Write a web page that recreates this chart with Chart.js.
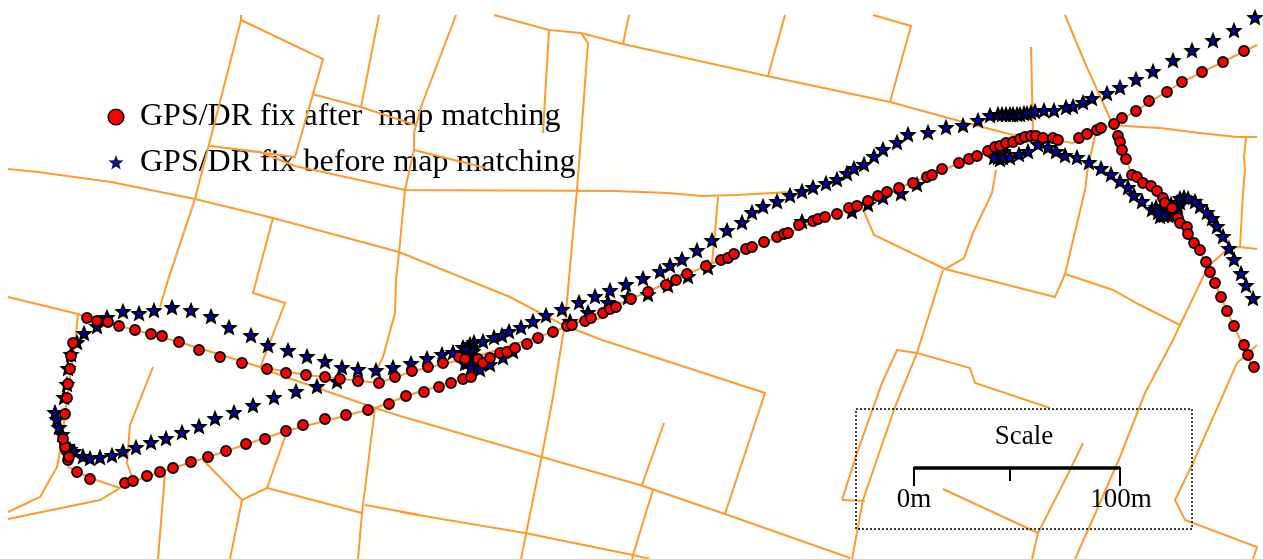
<!DOCTYPE html>
<html>
<head>
<meta charset="utf-8">
<style>html,body{margin:0;padding:0;background:#fff;overflow:hidden}canvas{display:block}</style>
<script src="https://cdn.jsdelivr.net/npm/chart.js@4"></script>
</head>
<body>
<canvas id="c" width="1263" height="559"></canvas>
<script>
const legendLabels = ["GPS/DR fix after  map matching", "GPS/DR fix before map matching"];
const scaleTitle = "Scale";
const scaleLabels = [["0m", 914], ["100m", 1121]];

const matchedFixes = [
[68,460],[77,472],[90,479],[125,483],[133,481],[147,476],[160,472],[173,468],[191,462],[208,457],[226,451],[246,444],[265,439],[286,431],[303,425],[325,419],[346,415],[368,410],[389,404],[406,396],[424,392],[439,387],[451,383],[463,379],[471,377],
[68,453],[66,450],[65,447],[69,457],[63,439],[65,414],[67,398],[68,384],[70,369],[71,356],[73,343],[87,318],[97,321],[108,322],[119,326],[135,330],[151,334],[162,336],[179,342],[199,350],[220,357],[242,363],[267,369],[286,373],[306,375],[325,377],[340,379],[358,381],[379,383],[395,377],[412,371],[428,367],[443,363],[459,357],[465,359],[478,359],[483,363],[490,358],[500,353],[507,352],[515,348],[527,344],[538,338],[553,332],[567,326],[572,325],[585,321],[591,318],[603,313],[610,309],[616,307],[631,299],[648,292],[666,285],[676,280],[687,274],[706,266],[721,260],[728,258],[734,254],[746,249],[752,247],[764,242],[777,237],[784,234],[788,233],[799,225],[813,221],[818,219],[825,217],[837,214],[849,208],[857,206],[868,201],[878,196],[887,192],[899,188],[913,183],[927,177],[932,175],[942,169],[959,163],[969,159],[977,156],[988,151],[995,147],[1000,146],[1006,143],[1013,142],[1020,139],[1025,137],[1031,136],[1036,136],[1043,138],[1053,138],[1058,140],[1079,138],[1087,134],[1097,130],[1101,128],[1114,124],[1122,118],[1136,111],[1149,101],[1167,92],[1182,82],[1202,72],[1223,62],[1244,51],
[1118,136],[1120,142],[1122,150],[1126,159],[1132,175],[1137,177],[1143,183],[1151,186],[1157,191],[1163,198],[1165,203],[1172,208],[1178,218],[1180,223],[1187,227],[1188,234],[1194,243],[1200,250],[1206,262],[1210,272],[1215,283],[1221,297],[1227,311],[1234,326],[1244,345],[1248,355],[1254,367]
];

const rawFixes = [
[123,452],[136,448],[151,443],[166,439],[182,433],[199,427],[215,419],[234,413],[253,406],[274,398],[296,392],[317,387],[337,382],[358,370],[376,371],[393,368],[411,364],[427,359],[442,355],[453,353],[463,348],[474,343],[483,342],[494,338],[502,336],[509,332],[521,328],[533,322],[546,316],[562,310],[579,303],[595,297],[610,291],[626,285],[643,279],[660,272],[670,266],[682,260],[697,251],[712,241],[727,231],[742,223],[752,213],[763,207],[777,202],[790,196],[802,192],[813,188],[826,184],[837,180],[847,174],[854,169],[864,165],[874,157],[883,150],[897,143],[908,135],[928,133],[946,128],[963,126],[978,121],[990,116],[998,115],[1002,115],[1006,115],[1010,115],[1013,115],[1017,115],[1020,115],[1024,114],[1027,114],[1031,113],[1035,112],[1044,111],[1054,111],[1066,108],[1073,107],[1083,103],[1092,99],[1107,94],[1120,88],[1136,80],[1153,72],[1173,61],[1192,51],[1213,41],[1234,31],[1255,18],
[342,368],[325,362],[307,357],[288,351],[268,346],[251,336],[229,328],[211,317],[191,311],[172,308],[154,311],[139,314],[123,312],[107,318],[97,327],[84,334],[77,343],[71,355],[68,369],[67,385],[64,398],[55,413],[57,420],[59,428],[62,435],[67,447],[70,450],[74,452],[83,457],[90,459],[100,458],[112,456],
[470,345],[470,348],[470,351],[469,354],[469,357],[468,360],[468,363],[472,365],[476,366],[473,352],[466,350],[474,358],[466,358],[473,362],[465,364],[471,368],[480,370],[490,365],[503,358],[513,352],[570,322],[588,313],[608,303],[628,298],[648,295],[668,286],[688,277],[708,268],[802,222],[852,212],[868,205],[883,198],[901,194],[917,185],
[995,155],[998,158],[1001,155],[1003,152],[1000,160],[997,152],[1003,158],[994,158],[1001,150],[1010,158],[1019,155],[1028,152],[1038,145],[1048,148],[1056,152],[1065,156],[1077,158],[1089,163],[1101,169],[1111,175],[1120,182],[1128,188],[1134,196],[1142,202],[1152,210],[1160,217],[1156,208],[1162,210],[1166,212],[1170,213],[1168,216],[1173,209],[1176,205],[1172,216],[1164,216],[1158,213],[1166,207],[1171,205],[1175,211],[1178,207],[1180,203],[1177,203],[1180,199],[1184,198],[1188,199],[1195,202],[1200,207],[1207,213],[1212,219],[1217,227],[1223,237],[1229,249],[1234,260],[1241,274],[1246,286],[1253,299]
];

const roadNetwork = [
[[241,15],[241,20],[323,59],[295,157],[210,146],[260,152],[295,166],[405,190],[615,191],[668,193],[702,196],[737,195],[790,192]],
[[241,20],[195,199],[168,280],[160,307]],
[[379,15],[361,107]],
[[456,15],[421,107],[414,133],[414,150],[405,190],[399,253],[396,280],[395,313],[383,357],[376,372]],
[[375,408],[362,513],[358,559]],
[[312,94],[361,107],[415,125]],
[[414,150],[486,168]],
[[494,15],[549,30],[581,33],[623,44],[767,76],[890,102],[963,122],[1013,135],[1043,138],[1073,143],[1093,131],[1113,125],[1142,127],[1160,128],[1200,133],[1237,137],[1257,137]],
[[629,15],[623,44]],[[785,15],[768,76]],
[[873,15],[911,26],[890,102]],
[[549,30],[543,133]],
[[581,33],[588,43],[577,190],[570,267],[565,323],[553,397],[543,450],[521,559]],
[[8,169],[38,172],[111,182],[195,199],[273,218],[399,252],[473,282],[510,297],[563,325],[602,318]],
[[563,325],[602,340],[765,393],[725,514]],
[[273,218],[253,293],[285,303],[260,368]],
[[718,197],[715,233],[712,263]],
[[8,297],[78,314],[87,318]],
[[78,314],[75,343],[67,398],[62,440],[57,467],[40,497],[8,512]],
[[8,519],[100,500],[120,488],[90,478],[68,467]],
[[87,318],[135,330],[179,342],[260,367],[306,375],[379,383],[413,371],[478,356],[553,332],[631,299],[706,266],[788,233],[899,188],[977,156],[1013,142],[1043,138]],
[[125,484],[173,468],[208,457],[286,431],[375,408],[412,394],[471,377],[483,365]],
[[1113,125],[1182,82],[1257,45]],
[[260,368],[375,408],[400,416],[542,457],[640,485],[725,514],[850,558]],
[[153,367],[130,425],[127,463],[132,477]],
[[203,460],[242,500],[267,488],[285,437]],
[[267,488],[362,513]],
[[365,505],[420,515]],
[[400,512],[525,533],[633,555],[650,559]],
[[242,500],[230,559]],
[[165,473],[158,559]],
[[664,423],[642,485]],
[[653,490],[633,555],[632,559]],
[[1065,15],[1085,63],[1113,125]],
[[1097,127],[1088,167],[1085,190],[1065,274]],
[[1246,137],[1244,157],[1245,170],[1243,193],[1240,247],[1257,249]],
[[1240,247],[1229,248],[1212,263],[1205,273],[1180,325],[1173,340],[1145,393],[1120,457],[1088,530],[1075,559]],
[[1065,274],[1080,279],[1113,290],[1140,305],[1180,325]],
[[1113,125],[1120,142],[1132,175],[1163,198],[1180,223],[1206,262],[1227,311],[1254,370]],
[[1031,47],[1032,90],[1033,133]],
[[996,170],[992,193],[973,233],[964,258],[945,269],[874,235],[863,209]],
[[945,269],[1055,297],[1065,274]],
[[943,270],[917,353],[895,407],[863,500],[852,559]],
[[842,500],[857,453],[882,383],[897,350],[917,353],[970,368],[975,383],[1050,408]],
[[842,500],[865,501]],
[[1083,443],[1070,470],[1038,533],[1032,559]],
[[943,489],[1038,533]],
[[1257,345],[1237,363],[1192,465],[1175,500],[1185,520],[1257,547],[1253,559]]
];

const scaleFrame = [[856,409],[1192,409],[1192,529],[856,529],[856,409]];
const scaleBar = [[914,486],[914,468],[1120,468],[1120,486]];
const scaleTick = [[1010,468],[1010,481]];

function xy(list){ return list.map(p => ({x:p[0], y:p[1]})); }

function starCanvas(size, outer, inner, fill, stroke, lw){
  const cv = document.createElement('canvas');
  cv.width = cv.height = size;
  const g = cv.getContext('2d');
  g.beginPath();
  for(let i=0;i<10;i++){
    const r = i%2 ? inner : outer;
    const a = -Math.PI/2 + i*Math.PI/5;
    const px = size/2 + r*Math.cos(a), py = size/2 + r*Math.sin(a);
    i ? g.lineTo(px,py) : g.moveTo(px,py);
  }
  g.closePath();
  g.fillStyle = fill; g.fill();
  if(lw){ g.strokeStyle = stroke; g.lineWidth = lw; g.lineJoin='miter'; g.stroke(); }
  return cv;
}
const plotStar = starCanvas(20, 6.5, 2.9, '#0000CC', '#000', 2);
const legendStar = starCanvas(20, 8, 3.4, '#14146E', '#14146E', 0);

const serif = '"Liberation Serif","Times New Roman",serif';

const textPlugin = {
  id:'scaleText',
  afterLayout(chart){
    const l = chart.legend;
    l.left = 94; l.top = 87;
    l.right = 700;
    if (l.adjustHitBoxes) l.adjustHitBoxes();
  },
  afterDatasetsDraw(chart){
    const {ctx, scales:{x,y}} = chart;
    ctx.save();
    ctx.fillStyle = '#000';
    ctx.font = '27px '+serif;
    ctx.textAlign = 'center';
    ctx.textBaseline = 'alphabetic';
    ctx.fillText(scaleTitle, x.getPixelForValue(1024), y.getPixelForValue(444));
    scaleLabels.forEach(s => ctx.fillText(s[0], x.getPixelForValue(s[1]), y.getPixelForValue(507)));
    ctx.restore();
  }
};

const datasets = [
  {label:'frame', data:xy(scaleFrame), showLine:true, pointRadius:0, borderColor:'#000', borderWidth:1.5, borderDash:[2,2], order:0},
  {label:'bar', data:xy(scaleBar), showLine:true, pointRadius:0, borderColor:'#000', borderWidth:2, order:0},
  {label:'barTop', data:xy([scaleBar[1],scaleBar[2]]), showLine:true, pointRadius:0, borderColor:'#000', borderWidth:3.5, order:0},
  {label:'tick', data:xy(scaleTick), showLine:true, pointRadius:0, borderColor:'#000', borderWidth:2, order:0},
  {label:legendLabels[0], data:xy(matchedFixes), showLine:false, pointStyle:'circle', pointRadius:5, backgroundColor:'#FF0000', borderColor:'#000', pointBorderWidth:1.8, order:1},
  {label:legendLabels[1], data:xy(rawFixes), showLine:false, pointStyle:plotStar, pointRadius:7, order:2},
  ...roadNetwork.map((r,i)=>({label:'road'+i, data:xy(r), showLine:true, pointRadius:0, borderColor:'#FF9A2E', borderWidth:2, tension:0, order:3}))
];

new Chart(document.getElementById('c'), {
  type:'scatter',
  data:{datasets},
  options:{
    responsive:false, animation:false,
    layout:{padding:0, autoPadding:false},
    scales:{
      x:{type:'linear', min:0, max:1263, display:false},
      y:{type:'linear', min:0, max:559, reverse:true, display:false}
    },
    plugins:{
      tooltip:{enabled:false},
      legend:{
        position:'chartArea', align:'start',
        labels:{
          usePointStyle:true, boxWidth:16, boxHeight:11, padding:14, color:'#000',
          font:{family:serif, size:32},
          generateLabels(){
            return [
              {text:legendLabels[0], pointStyle:'circle', fillStyle:'#FF0000', strokeStyle:'#000', lineWidth:1.6},
              {text:legendLabels[1], pointStyle:legendStar, fillStyle:'#14146E', strokeStyle:'#14146E', lineWidth:0}
            ];
          }
        }
      }
    }
  },
  plugins:[textPlugin]
});
</script>
</body>
</html>
